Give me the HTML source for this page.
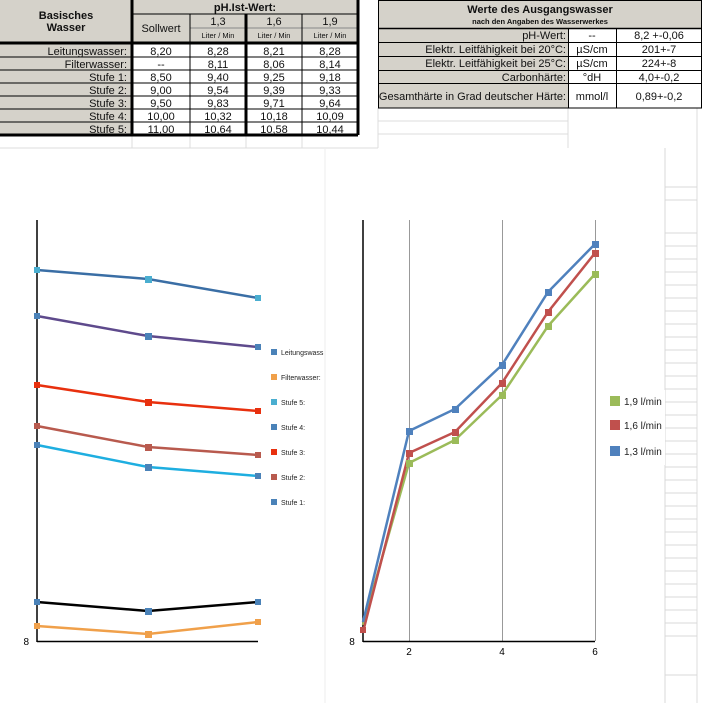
<!DOCTYPE html>
<html><head><meta charset="utf-8"><style>
html,body{margin:0;padding:0;background:#fff;}
svg{display:block;font-family:"Liberation Sans",Arial,sans-serif;}
</style></head><body>
<svg width="703" height="703" viewBox="0 0 703 703" xmlns="http://www.w3.org/2000/svg">
<rect width="703" height="703" fill="#fff"/>
<!-- faint spreadsheet grid -->
<g stroke="#dcdcdc" stroke-width="1">
<line x1="0" y1="148" x2="378" y2="148"/>
<line x1="132" y1="135" x2="132" y2="148"/><line x1="190" y1="135" x2="190" y2="148"/>
<line x1="246" y1="135" x2="246" y2="148"/><line x1="302" y1="135" x2="302" y2="148"/>
<line x1="378" y1="108" x2="378" y2="148"/><line x1="568" y1="108" x2="568" y2="148"/>
<line x1="378" y1="121" x2="568" y2="121"/><line x1="378" y1="134" x2="568" y2="134"/>
<line x1="697" y1="108" x2="697" y2="703"/>
</g>
<g stroke="#d8d8d8" stroke-width="1">
<line x1="665" y1="187" x2="697" y2="187"/><line x1="665" y1="200" x2="697" y2="200"/>
<line x1="665" y1="233" x2="697" y2="233"/><line x1="665" y1="246" x2="697" y2="246"/>
<line x1="665" y1="259" x2="697" y2="259"/><line x1="665" y1="272" x2="697" y2="272"/>
<line x1="665" y1="285" x2="697" y2="285"/><line x1="665" y1="298" x2="697" y2="298"/>
<line x1="665" y1="311" x2="697" y2="311"/><line x1="665" y1="324" x2="697" y2="324"/>
<line x1="665" y1="337" x2="697" y2="337"/><line x1="665" y1="350" x2="697" y2="350"/>
<line x1="665" y1="363" x2="697" y2="363"/><line x1="665" y1="376" x2="697" y2="376"/>
<line x1="665" y1="389" x2="697" y2="389"/><line x1="665" y1="402" x2="697" y2="402"/>
<line x1="665" y1="415" x2="697" y2="415"/><line x1="665" y1="428" x2="697" y2="428"/>
<line x1="665" y1="441" x2="697" y2="441"/><line x1="665" y1="454" x2="697" y2="454"/>
<line x1="665" y1="467" x2="697" y2="467"/><line x1="665" y1="480" x2="697" y2="480"/>
<line x1="665" y1="493" x2="697" y2="493"/><line x1="665" y1="506" x2="697" y2="506"/>
<line x1="665" y1="519" x2="697" y2="519"/><line x1="665" y1="532" x2="697" y2="532"/>
<line x1="665" y1="545" x2="697" y2="545"/><line x1="665" y1="558" x2="697" y2="558"/>
<line x1="665" y1="571" x2="697" y2="571"/><line x1="665" y1="584" x2="697" y2="584"/>
<line x1="665" y1="597" x2="697" y2="597"/><line x1="665" y1="610" x2="697" y2="610"/>
<line x1="665" y1="623" x2="697" y2="623"/><line x1="665" y1="636" x2="697" y2="636"/>
<line x1="665" y1="675" x2="697" y2="675"/>
<line x1="665" y1="148" x2="665" y2="703"/><line x1="325" y1="148" x2="325" y2="703" stroke="#eee"/>
</g>

<!-- Left table -->
<rect x="0" y="0" width="132" height="135" fill="#d5d2ca"/>
<rect x="132" y="0" width="226" height="42" fill="#d5d2ca"/>
<g stroke="#000" stroke-width="1">
<line x1="132" y1="14" x2="358" y2="14"/>
<line x1="190" y1="28" x2="358" y2="28" stroke="#888"/>
<line x1="0" y1="57" x2="358" y2="57"/><line x1="0" y1="70" x2="358" y2="70"/>
<line x1="0" y1="83" x2="358" y2="83"/><line x1="0" y1="96" x2="358" y2="96"/>
<line x1="0" y1="109" x2="358" y2="109"/><line x1="0" y1="122" x2="358" y2="122"/>
<line x1="190" y1="14" x2="190" y2="135"/><line x1="302" y1="14" x2="302" y2="135"/>
</g>
<g stroke="#000" stroke-width="3">
<line x1="0" y1="43" x2="358" y2="43"/><line x1="0" y1="135" x2="358" y2="135"/>
<line x1="132" y1="0" x2="132" y2="135"/><line x1="246" y1="14" x2="246" y2="135"/>
<line x1="358" y1="0" x2="358" y2="135"/>
</g>
<g font-size="11" fill="#111">
<text x="66" y="19" text-anchor="middle" font-weight="bold">Basisches</text>
<text x="66" y="31" text-anchor="middle" font-weight="bold">Wasser</text>
<text x="245" y="11" text-anchor="middle" font-weight="bold">pH.Ist-Wert:</text>
<text x="161" y="32" text-anchor="middle">Sollwert</text>
<text x="218" y="25" text-anchor="middle">1,3</text>
<text x="274" y="25" text-anchor="middle">1,6</text>
<text x="330" y="25" text-anchor="middle">1,9</text>
<text x="218" y="38" text-anchor="middle" font-size="7.5">Liter / Min</text>
<text x="274" y="38" text-anchor="middle" font-size="7.5">Liter / Min</text>
<text x="330" y="38" text-anchor="middle" font-size="7.5">Liter / Min</text>
<g text-anchor="end">
<text x="127" y="55">Leitungswasser:</text><text x="127" y="68">Filterwasser:</text>
<text x="127" y="81">Stufe 1:</text><text x="127" y="94">Stufe 2:</text>
<text x="127" y="107">Stufe 3:</text><text x="127" y="120">Stufe 4:</text>
<text x="127" y="133">Stufe 5:</text>
</g>
<g text-anchor="middle">
<text x="161" y="55">8,20</text><text x="218" y="55">8,28</text><text x="274" y="55">8,21</text><text x="330" y="55">8,28</text>
<text x="161" y="68">--</text><text x="218" y="68">8,11</text><text x="274" y="68">8,06</text><text x="330" y="68">8,14</text>
<text x="161" y="81">8,50</text><text x="218" y="81">9,40</text><text x="274" y="81">9,25</text><text x="330" y="81">9,18</text>
<text x="161" y="94">9,00</text><text x="218" y="94">9,54</text><text x="274" y="94">9,39</text><text x="330" y="94">9,33</text>
<text x="161" y="107">9,50</text><text x="218" y="107">9,83</text><text x="274" y="107">9,71</text><text x="330" y="107">9,64</text>
<text x="161" y="120">10,00</text><text x="218" y="120">10,32</text><text x="274" y="120">10,18</text><text x="330" y="120">10,09</text>
<text x="161" y="133">11,00</text><text x="218" y="133">10,64</text><text x="274" y="133">10,58</text><text x="330" y="133">10,44</text>
</g>
</g>

<!-- Right table -->
<rect x="378" y="0" width="324" height="28" fill="#d5d2ca"/>
<rect x="378" y="28" width="190" height="80" fill="#d5d2ca"/>
<g stroke="#000" stroke-width="1" fill="none">
<rect x="378.5" y="0.5" width="323" height="107.5"/>
<line x1="378" y1="28.5" x2="702" y2="28.5" stroke-width="1.5"/>
<line x1="378" y1="42.5" x2="702" y2="42.5"/><line x1="378" y1="56.5" x2="702" y2="56.5"/>
<line x1="378" y1="70.5" x2="702" y2="70.5"/><line x1="378" y1="83.5" x2="702" y2="83.5"/>
<line x1="568.5" y1="28" x2="568.5" y2="108"/><line x1="616.5" y1="28" x2="616.5" y2="108"/>
</g>
<g font-size="11" fill="#111">
<text x="540" y="13" text-anchor="middle" font-weight="bold">Werte des Ausgangswasser</text>
<text x="540" y="24" text-anchor="middle" font-weight="bold" font-size="7.5">nach den Angaben des Wasserwerkes</text>
<g text-anchor="end">
<text x="566" y="39">pH-Wert:</text><text x="566" y="53">Elektr. Leitfähigkeit bei 20°C:</text>
<text x="566" y="67">Elektr. Leitfähigkeit bei 25°C:</text><text x="566" y="81">Carbonhärte:</text>
<text x="566" y="100">Gesamthärte in Grad deutscher Härte:</text>
</g>
<g text-anchor="middle">
<text x="592" y="39">--</text><text x="592" y="53">µS/cm</text><text x="592" y="67">µS/cm</text><text x="592" y="81">°dH</text><text x="592" y="100">mmol/l</text>
<text x="659" y="39">8,2 +-0,06</text><text x="659" y="53">201+-7</text><text x="659" y="67">224+-8</text><text x="659" y="81">4,0+-0,2</text><text x="659" y="100">0,89+-0,2</text>
</g>
</g>

<!-- Left chart -->
<line x1="37" y1="220" x2="37" y2="642" stroke="#000" stroke-width="1.5"/>
<line x1="37" y1="641.5" x2="258" y2="641.5" stroke="#000" stroke-width="1.5"/>
<text x="29" y="645" font-size="10" text-anchor="end">8</text>
<g fill="none" stroke-width="2.5">
<polyline points="37,270 148,279 258,298" stroke="#3a6ea5"/>
<polyline points="37,316 148,336 258,347" stroke="#5e4a8c"/>
<polyline points="37,385 148,402 258,411" stroke="#e8300e"/>
<polyline points="37,426 148,447 258,455" stroke="#b85a4e"/>
<polyline points="37,445 148,467 258,476" stroke="#1eaee0"/>
<polyline points="37,602 148,611 258,602" stroke="#000"/>
<polyline points="37,626 148,634 258,622" stroke="#f0a04a"/>
</g>
<g>
<rect x="34" y="267" width="6" height="6" fill="#4aaed0"/><rect x="145" y="276" width="7" height="7" fill="#4aaed0"/><rect x="255" y="295" width="6" height="6" fill="#4aaed0"/>
<rect x="34" y="313" width="6" height="6" fill="#4a82b8"/><rect x="145" y="333" width="7" height="7" fill="#4a82b8"/><rect x="255" y="344" width="6" height="6" fill="#4a82b8"/>
<rect x="34" y="382" width="6" height="6" fill="#e8300e"/><rect x="145" y="399" width="7" height="7" fill="#e8300e"/><rect x="255" y="408" width="6" height="6" fill="#e8300e"/>
<rect x="34" y="423" width="6" height="6" fill="#b85a4e"/><rect x="145" y="444" width="7" height="7" fill="#b85a4e"/><rect x="255" y="452" width="6" height="6" fill="#b85a4e"/>
<rect x="34" y="442" width="6" height="6" fill="#4a82b8"/><rect x="145" y="464" width="7" height="7" fill="#4a82b8"/><rect x="255" y="473" width="6" height="6" fill="#4a82b8"/>
<rect x="34" y="599" width="6" height="6" fill="#4a82b8"/><rect x="145" y="608" width="7" height="7" fill="#4a82b8"/><rect x="255" y="599" width="6" height="6" fill="#4a82b8"/>
<rect x="34" y="623" width="6" height="6" fill="#f0a04a"/><rect x="145" y="631" width="7" height="7" fill="#f0a04a"/><rect x="255" y="619" width="6" height="6" fill="#f0a04a"/>
</g>
<g font-size="7" fill="#222">
<rect x="271" y="349" width="6" height="6" fill="#4a82b8"/><text x="281" y="355">Leitungswass</text>
<rect x="271" y="374" width="6" height="6" fill="#f0a04a"/><text x="281" y="380">Filterwasser:</text>
<rect x="271" y="399" width="6" height="6" fill="#4aaed0"/><text x="281" y="405">Stufe 5:</text>
<rect x="271" y="424" width="6" height="6" fill="#4a82b8"/><text x="281" y="430">Stufe 4:</text>
<rect x="271" y="449" width="6" height="6" fill="#e8300e"/><text x="281" y="455">Stufe 3:</text>
<rect x="271" y="474" width="6" height="6" fill="#b85a4e"/><text x="281" y="480">Stufe 2:</text>
<rect x="271" y="499" width="6" height="6" fill="#4a82b8"/><text x="281" y="505">Stufe 1:</text>
</g>

<!-- Right chart -->
<g stroke="#999" stroke-width="1">
<line x1="409.5" y1="220" x2="409.5" y2="641"/><line x1="502.5" y1="220" x2="502.5" y2="641"/><line x1="595.5" y1="220" x2="595.5" y2="641"/>
</g>
<line x1="363" y1="220" x2="363" y2="642" stroke="#000" stroke-width="1.5"/>
<line x1="363" y1="641.5" x2="595" y2="641.5" stroke="#000" stroke-width="1.5"/>
<g font-size="10" text-anchor="middle">
<text x="352" y="645">8</text><text x="409" y="655">2</text><text x="502" y="655">4</text><text x="595" y="655">6</text>
</g>
<g fill="none" stroke-width="2.5">
<polyline points="363,625 409,463 455,440 502,395 548,326 595,274" stroke="#9bbb59"/>
<polyline points="363,632 409,453 455,432 502,383 548,312 595,253" stroke="#c0504d"/>
<polyline points="363,622 409,431 455,409 502,365 548,292 595,244" stroke="#4f81bd"/>
</g>
<g>
<rect x="406" y="460" width="7" height="7" fill="#9bbb59"/><rect x="452" y="437" width="7" height="7" fill="#9bbb59"/><rect x="499" y="392" width="7" height="7" fill="#9bbb59"/><rect x="545" y="323" width="7" height="7" fill="#9bbb59"/><rect x="592" y="271" width="7" height="7" fill="#9bbb59"/>
<rect x="406" y="450" width="7" height="7" fill="#c0504d"/><rect x="452" y="429" width="7" height="7" fill="#c0504d"/><rect x="499" y="380" width="7" height="7" fill="#c0504d"/><rect x="545" y="309" width="7" height="7" fill="#c0504d"/><rect x="592" y="250" width="7" height="7" fill="#c0504d"/>
<rect x="406" y="428" width="7" height="7" fill="#4f81bd"/><rect x="452" y="406" width="7" height="7" fill="#4f81bd"/><rect x="499" y="362" width="7" height="7" fill="#4f81bd"/><rect x="545" y="289" width="7" height="7" fill="#4f81bd"/><rect x="592" y="241" width="7" height="7" fill="#4f81bd"/>
<rect x="360" y="627" width="6" height="6" fill="#c0504d"/>
</g>
<g font-size="10" fill="#222">
<rect x="610" y="396" width="10" height="10" fill="#9bbb59"/><text x="624" y="405">1,9 l/min</text>
<rect x="610" y="420" width="10" height="10" fill="#c0504d"/><text x="624" y="429">1,6 l/min</text>
<rect x="610" y="446" width="10" height="10" fill="#4f81bd"/><text x="624" y="455">1,3 l/min</text>
</g>
<rect x="662" y="390" width="3" height="75" fill="#fff"/>
</svg>
</body></html>
